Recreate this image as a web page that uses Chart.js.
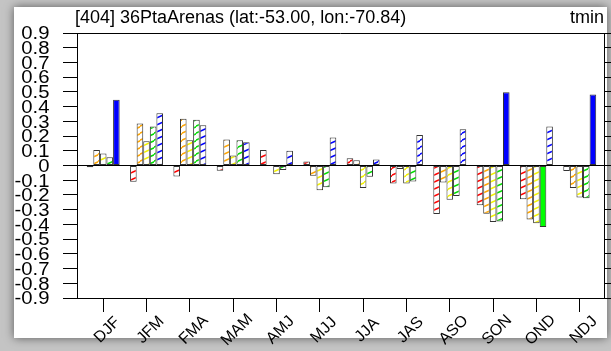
<!DOCTYPE html>
<html>
<head>
<meta charset="utf-8">
<script src="https://cdn.jsdelivr.net/npm/chart.js@4.4.0/dist/chart.umd.min.js"></script>
<style>
    html, body { margin: 0; padding: 0; }
    body { width: 611px; height: 351px; background: #c4c4c4; position: relative; overflow: hidden; }
    .page { position: absolute; left: 14px; top: 7px; width: 593px; height: 331px; background: #fff; box-shadow: 0 0 9px rgba(0, 0, 0, .55); }
    #chart { position: absolute; left: 0; top: 0; }
</style>
</head>
<body>
<div class="page"></div>
<canvas id="chart" width="611" height="351"></canvas>
<script>
const titleText = '[404] 36PtaArenas (lat:-53.00, lon:-70.84)';
const varName = 'tmin';
const categories = ['DJF', 'JFM', 'FMA', 'MAM', 'AMJ', 'MJJ', 'JJA', 'JAS', 'ASO', 'SON', 'OND', 'NDJ'];
const yTicks = [-0.9, -0.8, -0.7, -0.6, -0.5, -0.4, -0.3, -0.2, -0.1, 0, 0.1, 0.2, 0.3, 0.4, 0.5, 0.6, 0.7, 0.8, 0.9];

// one value per category, five series
const redVals    = [-0.012, -0.11, -0.075, -0.036, 0.106, 0.028, 0.05, -0.122, -0.33, -0.27, -0.23, -0.038];
const orangeVals = [0.106, 0.285, 0.318, 0.176, 0, -0.07, 0.036, -0.024, -0.115, -0.327, -0.366, -0.152];
const yellowVals = [0.081, 0.165, 0.172, 0.068, -0.06, -0.168, -0.152, -0.122, -0.233, -0.384, -0.393, -0.218];
const greenVals  = [0.056, 0.265, 0.311, 0.171, -0.03, -0.148, -0.077, -0.108, -0.207, -0.38, -0.418, -0.222];
const blueVals   = [0.446, 0.355, 0.273, 0.158, 0.1, 0.19, 0.04, 0.208, 0.247, 0.497, 0.265, 0.482];

// significant values are drawn solid
const redSig    = [0, 0, 0, 0, 0, 0, 0, 0, 0, 0, 0, 0];
const orangeSig = [0, 0, 0, 0, 0, 0, 0, 0, 0, 0, 0, 0];
const yellowSig = [0, 0, 0, 0, 0, 0, 0, 0, 0, 0, 0, 0];
const greenSig  = [0, 0, 0, 0, 0, 0, 0, 0, 0, 0, 1, 0];
const blueSig   = [1, 0, 0, 0, 0, 0, 0, 0, 0, 1, 0, 1];

const seriesVals = [redVals, orangeVals, yellowVals, greenVals, blueVals];
const seriesSig = [redSig, orangeSig, yellowSig, greenSig, blueSig];
const seriesColors = ['#ff0000', '#ffa500', '#f2f200', '#00dd00', '#0000ff'];
const solidColors = ['#ff0000', '#ffa500', '#ffff00', '#00ff00', '#0000ff'];

const canvas = document.getElementById('chart');
const mainCtx = canvas.getContext('2d');

function hatch(color) {
    const c = document.createElement('canvas');
    c.width = 14;
    c.height = 7;
    const g = c.getContext('2d');
    g.fillStyle = '#fff';
    g.fillRect(0, 0, 14, 7);
    g.strokeStyle = color;
    g.lineWidth = 1.5;
    for(let k = -1; k <= 1; k++) {
        g.beginPath();
        g.moveTo(-2, 8 + 7 * k);
        g.lineTo(16, 7 * k);
        g.stroke();
    }
    return mainCtx.createPattern(c, 'repeat');
}

const datasets = seriesVals.map((vals, s) => {
    const pat = hatch(seriesColors[s]);
    return {
        data: vals.map((v, i) => ({ x: i, y: v })),
        backgroundColor: vals.map((v, i) => seriesSig[s][i] ? solidColors[s] : pat)
    };
});

const fmt = v => Math.abs(v) < 1e-9 ? '0' : v.toFixed(1);

// title, top frame line and axis labels
const frame = {
    id: 'frame',
    afterDraw(chart) {
        const { ctx, chartArea: a } = chart;
        const xs = chart.scales.x;
        const ys = chart.scales.y;
        ctx.save();
        ctx.strokeStyle = '#000';
        ctx.lineWidth = 1;
        ctx.beginPath();
        ctx.moveTo(a.left, a.top + 0.5);
        ctx.lineTo(a.right, a.top + 0.5);
        ctx.stroke();

        ctx.fillStyle = '#000';
        ctx.font = '18px "Liberation Sans"';
        ctx.textBaseline = 'alphabetic';
        ctx.textAlign = 'left';
        ctx.fillText(titleText, 75, 23);
        ctx.textAlign = 'right';
        ctx.fillText(varName, 604, 23);

        // y labels: wide, slightly stretched glyphs
        ctx.font = '17.5px "Liberation Sans"';
        ctx.textAlign = 'right';
        ctx.textBaseline = 'middle';
        yTicks.forEach(v => {
            ctx.save();
            ctx.translate(a.left - 27.5, ys.getPixelForValue(v) + 1.5);
            ctx.scale(1.16, 1);
            ctx.fillText(fmt(v), 0, 0);
            ctx.restore();
        });

        ctx.font = '16px "Liberation Sans"';
        ctx.textAlign = 'center';
        categories.forEach((c, i) => {
            ctx.save();
            ctx.translate(xs.getPixelForValue(i) + 4, a.bottom + 32);
            ctx.rotate(-Math.PI / 4);
            ctx.fillText(c, 0, 0);
            ctx.restore();
        });
        ctx.restore();
    }
};

new Chart(canvas, {
    type: 'bar',
    data: { datasets: datasets },
    options: {
        responsive: false,
        animation: false,
        layout: { padding: { top: 33, left: 0, right: 0, bottom: 0 } },
        plugins: {
            legend: { display: false },
            tooltip: { enabled: false },
            title: { display: false }
        },
        datasets: {
            bar: {
                categoryPercentage: 0.76,
                barPercentage: 1,
                borderWidth: 1,
                borderColor: '#333',
                borderSkipped: false
            }
        },
        scales: {
            x: {
                type: 'linear',
                min: -0.605,
                max: 11.56,
                offset: false,
                afterFit: s => { s.height = 53; },
                ticks: { display: false, stepSize: 1, includeBounds: false, autoSkip: false },
                grid: { drawOnChartArea: false, offset: false, tickLength: 14, tickColor: '#000' },
                border: { display: true, color: '#000', width: 1 }
            },
            y: {
                position: 'left',
                min: yTicks[0],
                max: yTicks[yTicks.length - 1],
                afterFit: s => { s.width = 77; },
                afterBuildTicks: s => { s.ticks = yTicks.map(v => ({ value: v })); },
                ticks: { display: false, autoSkip: false },
                grid: {
                    drawOnChartArea: true,
                    color: c => (c.tick && Math.abs(c.tick.value) < 1e-9) ? '#000' : 'rgba(0,0,0,0)',
                    tickColor: '#000',
                    tickLength: 14
                },
                border: { display: true, color: '#000', width: 1 }
            },
            y2: {
                position: 'right',
                min: yTicks[0],
                max: yTicks[yTicks.length - 1],
                afterFit: s => { s.width = 7; },
                afterBuildTicks: s => { s.ticks = yTicks.map(v => ({ value: v })); },
                ticks: { display: false, autoSkip: false },
                grid: { drawOnChartArea: false, tickColor: '#000', tickLength: 7 },
                border: { display: true, color: '#000', width: 1 }
            }
        }
    },
    plugins: [frame]
});
</script>
</body>
</html>
